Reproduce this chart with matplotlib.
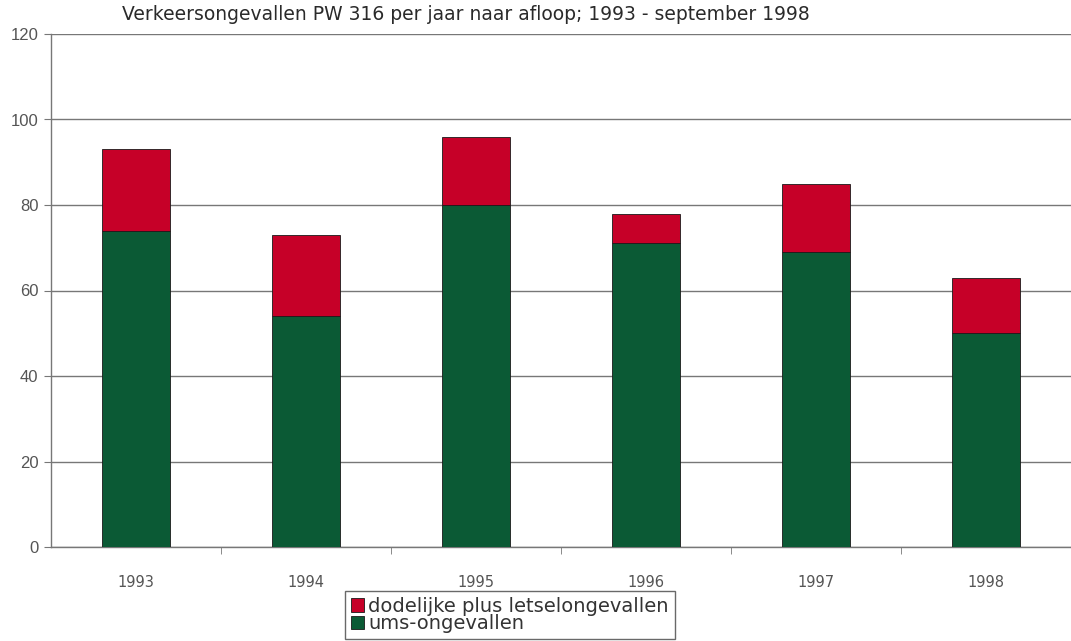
import numpy as np
import matplotlib.pyplot as plt

plt.rcParams['font.family'] = ['Liberation Sans', 'DejaVu Sans']

jaren = ['1993', '1994', '1995', '1996', '1997', '1998']
ums = [74, 54, 80, 71, 69, 50]
letsel = [19, 19, 16, 7, 16, 13]

groen = '#0b5a35'
rood = '#c60028'

fig = plt.figure(figsize=(10.71, 6.41), dpi=100)
ax = fig.add_axes([51/1071, 94/641, 1020/1071, 513/641])

x = np.arange(len(jaren))
ax.bar(x, ums, width=0.405, color=groen, edgecolor='#1a1a1a', linewidth=0.6,
       label='ums-ongevallen', zorder=3)
ax.bar(x, letsel, width=0.405, bottom=ums, color=rood, edgecolor='#1a1a1a',
       linewidth=0.6, label='dodelijke plus letselongevallen', zorder=3)

ax.set_xlim(-0.5, len(jaren) - 0.5)
ax.set_ylim(0, 120)
ax.set_yticks(range(0, 121, 20))
ax.yaxis.grid(True, color='#777777', linewidth=1.0, zorder=0)

ax.set_xticks(x)
ax.set_xticklabels(jaren, fontsize=10.5, color='#555555', family='DejaVu Sans')
ax.set_xticks(x[:-1] + 0.5, minor=True)
ax.tick_params(axis='x', which='major', length=0, pad=20)
ax.tick_params(axis='x', which='minor', length=5, direction='out', color='#777777')
ax.tick_params(axis='y', length=5, direction='out', color='#777777',
               labelsize=12, labelcolor='#555555', pad=4)

for s in ['top', 'right']:
    ax.spines[s].set_visible(False)
for s in ['left', 'bottom']:
    ax.spines[s].set_color('#777777')
    ax.spines[s].set_linewidth(1.0)

fig.text(122/1071, 1 - 15/641, 'Verkeersongevallen PW 316 per jaar naar afloop; 1993 - september 1998',
         fontsize=13.5, color='#2a2a2a', va='center', ha='left', family='DejaVu Sans')

h, l = ax.get_legend_handles_labels()
leg = fig.legend(h[::-1], l[::-1], loc='upper left', bbox_to_anchor=(345/1071, 1 - 591/641),
                 prop={'family': 'DejaVu Sans', 'size': 14}, frameon=True, fancybox=False,
                 edgecolor='#444444', handlelength=0.7, handleheight=0.7, handletextpad=0.2,
                 labelspacing=-0.08, borderpad=0.3, borderaxespad=0)
leg.get_frame().set_linewidth(1.0)
for t in leg.get_texts():
    t.set_color('#333333')

fig.savefig('out.png', dpi=100)
